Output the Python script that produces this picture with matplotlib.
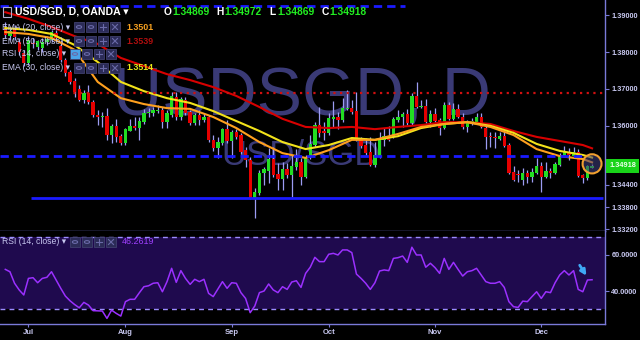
import matplotlib
matplotlib.use('Agg')
import matplotlib.pyplot as plt
import matplotlib.transforms as mtransforms
from matplotlib.patches import Rectangle, Ellipse, Circle
from matplotlib.lines import Line2D

plt.rcParams['font.family'] = ['Liberation Sans', 'DejaVu Sans']

# daily USD/SGD candles (OANDA), late June -> mid December
opens = [1.3865, 1.3843, 1.3862, 1.3827, 1.3797, 1.3770, 1.3824, 1.3814, 1.3811, 1.3827,
         1.3833, 1.3852, 1.3816, 1.3778, 1.3746, 1.3721, 1.3700, 1.3670, 1.3689, 1.3665,
         1.3629, 1.3624, 1.3627, 1.3575, 1.3600, 1.3572, 1.3553, 1.3586, 1.3600, 1.3594,
         1.3610, 1.3634, 1.3635, 1.3640, 1.3643, 1.3610, 1.3629, 1.3678, 1.3624, 1.3670,
         1.3638, 1.3608, 1.3629, 1.3616, 1.3624, 1.3562, 1.3540, 1.3553, 1.3591, 1.3559,
         1.3583, 1.3575, 1.3534, 1.3507, 1.3402, 1.3418, 1.3472, 1.3478, 1.3510, 1.3469,
         1.3456, 1.3483, 1.3467, 1.3488, 1.3502, 1.3461, 1.3515, 1.3548, 1.3602, 1.3586,
         1.3581, 1.3619, 1.3624, 1.3616, 1.3646, 1.3648, 1.3640, 1.3564, 1.3548, 1.3529,
         1.3494, 1.3515, 1.3562, 1.3572, 1.3570, 1.3616, 1.3624, 1.3632, 1.3608, 1.3681,
         1.3651, 1.3654, 1.3610, 1.3632, 1.3616, 1.3594, 1.3656, 1.3619, 1.3646, 1.3624,
         1.3597, 1.3610, 1.3610, 1.3624, 1.3594, 1.3570, 1.3570, 1.3564, 1.3572, 1.3548,
         1.3475, 1.3467, 1.3453, 1.3472, 1.3461, 1.3472, 1.3491, 1.3461, 1.3478, 1.3472,
         1.3494, 1.3518, 1.3529, 1.3518, 1.3529, 1.3467, 1.3459, 1.34869]
highs = [1.3881, 1.3865, 1.3873, 1.3838, 1.3806, 1.3843, 1.3838, 1.3833, 1.3838, 1.3843,
         1.3860, 1.3860, 1.3833, 1.3784, 1.3751, 1.3730, 1.3711, 1.3697, 1.3711, 1.3670,
         1.3643, 1.3638, 1.3648, 1.3605, 1.3619, 1.3578, 1.3594, 1.3619, 1.3624, 1.3624,
         1.3646, 1.3648, 1.3651, 1.3656, 1.3651, 1.3643, 1.3692, 1.3692, 1.3678, 1.3678,
         1.3643, 1.3635, 1.3643, 1.3632, 1.3629, 1.3575, 1.3570, 1.3594, 1.3616, 1.3589,
         1.3591, 1.3581, 1.3543, 1.3515, 1.3432, 1.3480, 1.3488, 1.3540, 1.3543, 1.3499,
         1.3502, 1.3499, 1.3521, 1.3537, 1.3513, 1.3521, 1.3575, 1.3610, 1.3651, 1.3610,
         1.3635, 1.3667, 1.3638, 1.3675, 1.3697, 1.3670, 1.3692, 1.3570, 1.3567, 1.3570,
         1.3556, 1.3583, 1.3594, 1.3600, 1.3624, 1.3643, 1.3638, 1.3646, 1.3689, 1.3719,
         1.3670, 1.3673, 1.3643, 1.3648, 1.3621, 1.3665, 1.3665, 1.3662, 1.3659, 1.3635,
         1.3616, 1.3621, 1.3635, 1.3635, 1.3600, 1.3583, 1.3583, 1.3583, 1.3586, 1.3553,
         1.3491, 1.3480, 1.3486, 1.3480, 1.3486, 1.3513, 1.3502, 1.3502, 1.3486, 1.3502,
         1.3526, 1.3545, 1.3540, 1.3543, 1.3537, 1.3469, 1.3494, 1.34972]
lows = [1.3838, 1.3833, 1.3833, 1.3792, 1.3762, 1.3765, 1.3811, 1.3806, 1.3800, 1.3819,
        1.3827, 1.3833, 1.3773, 1.3735, 1.3713, 1.3678, 1.3667, 1.3662, 1.3659, 1.3624,
        1.3602, 1.3597, 1.3562, 1.3553, 1.3556, 1.3548, 1.3548, 1.3586, 1.3589, 1.3562,
        1.3605, 1.3624, 1.3627, 1.3635, 1.3594, 1.3594, 1.3624, 1.3616, 1.3616, 1.3629,
        1.3602, 1.3602, 1.3602, 1.3610, 1.3556, 1.3532, 1.3513, 1.3548, 1.3553, 1.3513,
        1.3564, 1.3524, 1.3488, 1.3402, 1.3350, 1.3413, 1.3440, 1.3445, 1.3461, 1.3426,
        1.3426, 1.3459, 1.3407, 1.3480, 1.3440, 1.3459, 1.3510, 1.3543, 1.3570, 1.3562,
        1.3575, 1.3597, 1.3591, 1.3610, 1.3643, 1.3632, 1.3559, 1.3540, 1.3521, 1.3491,
        1.3488, 1.3513, 1.3545, 1.3559, 1.3567, 1.3610, 1.3597, 1.3602, 1.3602, 1.3648,
        1.3648, 1.3608, 1.3597, 1.3610, 1.3575, 1.3591, 1.3616, 1.3616, 1.3621, 1.3591,
        1.3583, 1.3602, 1.3605, 1.3594, 1.3537, 1.3543, 1.3540, 1.3562, 1.3543, 1.3469,
        1.3451, 1.3448, 1.3440, 1.3445, 1.3448, 1.3469, 1.3421, 1.3459, 1.3459, 1.3469,
        1.3491, 1.3515, 1.3507, 1.3515, 1.3461, 1.3445, 1.3453, 1.34869]
closes = [1.3846, 1.3857, 1.3841, 1.3800, 1.3770, 1.3833, 1.3822, 1.3830, 1.3827, 1.3835,
          1.3854, 1.3838, 1.3778, 1.3743, 1.3719, 1.3692, 1.3670, 1.3689, 1.3665, 1.3629,
          1.3625, 1.3627, 1.3575, 1.3600, 1.3570, 1.3553, 1.3591, 1.3600, 1.3594, 1.3613,
          1.3635, 1.3638, 1.3643, 1.3644, 1.3610, 1.3635, 1.3681, 1.3624, 1.3673, 1.3635,
          1.3608, 1.3629, 1.3616, 1.3624, 1.3562, 1.3540, 1.3556, 1.3591, 1.3559, 1.3583,
          1.3570, 1.3529, 1.3507, 1.3404, 1.3421, 1.3472, 1.3483, 1.3510, 1.3467, 1.3456,
          1.3483, 1.3467, 1.3491, 1.3502, 1.3461, 1.3515, 1.3551, 1.3602, 1.3581, 1.3581,
          1.3621, 1.3624, 1.3616, 1.3648, 1.3648, 1.3638, 1.3564, 1.3545, 1.3526, 1.3494,
          1.3521, 1.3564, 1.3572, 1.3562, 1.3619, 1.3624, 1.3632, 1.3608, 1.3681, 1.3651,
          1.3654, 1.3610, 1.3632, 1.3613, 1.3594, 1.3656, 1.3619, 1.3646, 1.3624, 1.3597,
          1.3610, 1.3611, 1.3624, 1.3597, 1.3570, 1.3569, 1.3567, 1.3572, 1.3545, 1.3472,
          1.3453, 1.3466, 1.3472, 1.3461, 1.3475, 1.3491, 1.3461, 1.3478, 1.3472, 1.3497,
          1.3521, 1.3529, 1.3521, 1.3529, 1.3464, 1.3459, 1.3491, 1.34918]

# moving averages every 5 bars
ema_idx = [0, 5, 10, 15, 20, 25, 30, 35, 40, 45, 50, 55, 60, 65, 70, 75, 80, 85, 90,
           95, 100, 105, 110, 115, 120, 125, 127]
ema20 = [1.3854, 1.3849, 1.3838, 1.3806, 1.3719, 1.3675, 1.3659, 1.3648, 1.3646, 1.3624,
         1.3594, 1.3556, 1.3526, 1.3513, 1.3534, 1.3562, 1.3562, 1.3578, 1.3597, 1.3605,
         1.3610, 1.3597, 1.3575, 1.3537, 1.3518, 1.3510, 1.3501]
ema30 = [1.3865, 1.3860, 1.3849, 1.3819, 1.3773, 1.3719, 1.3694, 1.3675, 1.3662, 1.3640,
         1.3613, 1.3586, 1.3556, 1.3537, 1.3548, 1.3567, 1.3562, 1.3572, 1.3594, 1.3605,
         1.3610, 1.3600, 1.3581, 1.3551, 1.3532, 1.3521, 1.3514]
ema50 = [1.3908, 1.3890, 1.3868, 1.3843, 1.3822, 1.3784, 1.3762, 1.3740, 1.3724, 1.3705,
         1.3681, 1.3651, 1.3619, 1.3597, 1.3594, 1.3597, 1.3591, 1.3597, 1.3602, 1.3610,
         1.3610, 1.3605, 1.3586, 1.3570, 1.3559, 1.3548, 1.3539]

rsi = [52.0, 50.7, 44.3, 40.6, 37.8, 47.0, 47.4, 44.6, 47.0, 47.6,
       50.7, 46.1, 41.5, 37.2, 34.6, 32.5, 30.7, 33.7, 32.2, 29.1,
       29.0, 28.9, 24.8, 29.4, 27.6, 26.1, 34.1, 35.4, 35.4, 39.0,
       42.4, 42.9, 44.3, 44.6, 39.6, 45.2, 52.6, 44.8, 51.3, 47.0,
       43.7, 46.5, 45.2, 46.5, 38.7, 36.9, 41.0, 45.2, 41.5, 44.6,
       44.3, 39.1, 35.9, 28.0, 31.7, 39.1, 40.0, 43.9, 40.6, 39.1,
       42.4, 40.9, 45.0, 45.7, 42.0, 49.8, 53.2, 58.7, 56.3, 56.3,
       60.4, 60.9, 60.0, 62.8, 62.8, 61.3, 49.4, 47.0, 44.3, 40.9,
       44.6, 51.1, 51.7, 51.3, 58.1, 58.5, 59.4, 55.9, 64.3, 60.0,
       60.0, 53.2, 55.4, 53.0, 49.8, 58.1, 52.0, 55.9, 52.0, 48.3,
       50.7, 51.3, 52.6, 48.9, 45.2, 44.3, 44.3, 45.2, 42.0, 34.1,
       31.3, 30.9, 34.4, 34.1, 36.9, 39.6, 35.9, 39.6, 39.1, 44.6,
       48.9, 51.3, 48.9, 51.3, 40.9, 39.6, 46.1, 46.2619]

month_labels = ['Jul', 'Aug', 'Sep', 'Oct', 'Nov', 'Dec']
month_idx = [5, 26, 49, 70, 93, 116]

price_ticks = [1.332, 1.338, 1.344, 1.36, 1.37, 1.38, 1.39]
level_red = 1.3689
level_blue_dash = 1.3519
level_blue_top = 1.3925
level_blue_solid = 1.3404

BG = '#000000'
AXC = '#7a7ad8'
TXT = '#c8c8f0'
UP = '#22dd22'
DN = '#e60000'
WICK = '#9c9cf2'

fig = plt.figure(figsize=(6.4, 3.4), dpi=100, facecolor=BG)
ax = fig.add_axes([0, 109 / 340, 605 / 640, 231 / 340], facecolor=BG)
ax2 = fig.add_axes([0, 16 / 340, 605 / 640, 93 / 340], facecolor=BG)
xmin, xmax = -1.15, 129.8

# watermark
ax.text(0.499, 0.502, 'USDSGD, D', transform=ax.transAxes, ha='center', va='baseline',
        fontsize=49, color='#3a3a76', zorder=0.5)
ax.text(0.497, 0.286, 'USD/SGD', transform=ax.transAxes, ha='center', va='baseline',
        fontsize=25, color='#3a3a76', zorder=0.5)

# candles
n = len(closes)
for i in range(n):
    o, h, l, c = opens[i], highs[i], lows[i], closes[i]
    col = UP if c >= o else DN
    ax.vlines(i, l, h, color=WICK, lw=0.9, zorder=2)
    body = max(abs(c - o), 0.00025)
    ax.bar(i, body, bottom=min(o, c), width=0.72, color=col, lw=0, zorder=3)

ax.plot(ema_idx, ema50, color='#d80000', lw=1.5, zorder=4)
ax.plot(ema_idx, ema30, color='#f2e21a', lw=1.5, zorder=4)
ax.plot(ema_idx, ema20, color='#ffa01e', lw=1.5, zorder=4)

# drawn levels
ax.axhline(level_red, color='#d01010', lw=1.6, ls=(0, (1, 2)), zorder=5)
ax.hlines(level_blue_top, xmin, 86.5, color='#1a1aff', lw=2, ls=(0, (3, 1.8)), zorder=5)
ax.hlines(level_blue_dash, xmin, 125.5, color='#1a1aff', lw=2, ls=(0, (3, 1.8)), zorder=5)
ax.hlines(level_blue_solid, 5.6, 129.4, color='#1a1aff', lw=2, zorder=5)

ax.add_patch(Ellipse((127.0, 1.3497), 4.1, 0.0052, fc=(0.25, 0.25, 0.5, 0.55),
                     ec='#f0a030', lw=1.5, zorder=6))

ax.set_xlim(xmin, xmax)
ax.set_ylim(1.3315, 1.3941)
ax.set_xticks([])
ax.yaxis.tick_right()
ax.set_yticks(price_ticks, [f'{v:.5f}' for v in price_ticks])
ax.tick_params(axis='y', color=AXC, labelcolor=TXT, labelsize=5.3, length=3, width=0.8, pad=1.5)
for lbl in ax.get_yticklabels():
    lbl.set_fontweight('bold')
for s in ['left', 'top']:
    ax.spines[s].set_visible(False)
for s in ['right', 'bottom']:
    ax.spines[s].set_color(AXC)
    ax.spines[s].set_linewidth(1)

# last price tag
tr = mtransforms.blended_transform_factory(ax.transAxes, ax.transData)
ax.text(1.0 + 4 / 605, closes[-1], f'{closes[-1]:.5f}', transform=tr, ha='left', va='center',
        fontsize=5.3, fontweight='bold', color='#eaffea', zorder=10,
        bbox=dict(boxstyle='square,pad=0.45', fc='#19d419', ec='none'))

# RSI panel
ax2.axhspan(30, 70, color='#1f0a4e', lw=0, zorder=0)
ax2.axhline(70, color='#9c8cff', lw=1, ls=(0, (3.5, 3)), zorder=1)
ax2.axhline(30, color='#9c8cff', lw=1, ls=(0, (3.5, 3)), zorder=1)
ax2.plot(range(len(rsi)), rsi, color='#9b30ff', lw=1.1, zorder=3)
ax2.annotate('', xy=(126.1, 47.2), xytext=(124.0, 55.6),
             arrowprops=dict(arrowstyle='-|>', color='#3fa9f5', lw=2, mutation_scale=8), zorder=4)
ax2.set_xlim(xmin, xmax)
ax2.set_ylim(21.7, 73.3)
ax2.yaxis.tick_right()
ax2.set_yticks([40, 60], ['40.0000', '60.0000'])
ax2.set_xticks(month_idx, month_labels)
ax2.tick_params(axis='y', color=AXC, labelcolor=TXT, labelsize=5.3, length=3, width=0.8, pad=1.5)
ax2.tick_params(axis='x', color=AXC, labelcolor=TXT, labelsize=5.5, length=2, width=0.8, pad=1.5)
for lbl in ax2.get_yticklabels() + ax2.get_xticklabels():
    lbl.set_fontweight('bold')
for s in ['left', 'top']:
    ax2.spines[s].set_visible(False)
for s in ['right', 'bottom']:
    ax2.spines[s].set_color(AXC)
    ax2.spines[s].set_linewidth(1)


# header / legend texts (pixel positions from top-left)
def fp(x, y):
    return x / 640, 1 - y / 340


def seg(x1, y1, x2, y2, col):
    a, b = fp(x1, y1)
    c, d = fp(x2, y2)
    fig.add_artist(Line2D([a, c], [b, d], transform=fig.transFigure, color=col, lw=0.8))


def icons(xs, y, first_on=False):
    gc = '#6a6aa8'
    for k, x in enumerate(xs):
        fc = '#4aa3e8' if (first_on and k == 0) else '#2b2b57'
        fig.add_artist(Rectangle(fp(x, y + 5), 10 / 640, 10 / 340, transform=fig.transFigure,
                                 fc=fc, ec='#40406e', lw=0.6))
        cx = x + 5
        if k < 2:
            fig.add_artist(Circle(fp(cx, y), 2.6 / 640, transform=fig.transFigure,
                                  fc='none', ec=gc, lw=0.8))
        elif k == 2:
            seg(cx - 3, y, cx + 3, y, gc)
            seg(cx, y - 3, cx, y + 3, gc)
        else:
            seg(cx - 2.5, y - 2.5, cx + 2.5, y + 2.5, gc)
            seg(cx - 2.5, y + 2.5, cx + 2.5, y - 2.5, gc)


fig.add_artist(Rectangle(fp(3, 17), 8 / 640, 10 / 340, transform=fig.transFigure,
                         fc='none', ec='#b0b0d0', lw=0.8))
fig.text(*fp(15, 12), 'USD/SGD, D, OANDA \u25be', ha='left', va='center', fontsize=7.6,
         fontweight='bold', color='white')
ohlc = [('O', opens[-1]), ('H', highs[-1]), ('L', lows[-1]), ('C', closes[-1])]
for k, (lab, v) in enumerate(ohlc):
    x0 = 164 + 52.5 * k
    fig.text(*fp(x0, 12), lab, ha='left', va='center', fontsize=7.4, fontweight='bold', color='white')
    fig.text(*fp(x0 + 8, 12), f'{v:.5f}', ha='left', va='center', fontsize=7.4,
             fontweight='bold', color='#22ee22')

rows = [('EMA (20, close) \u25be', 27, ema20[-1], '#f5a020'),
        ('EMA (50, close) \u25be', 41, ema50[-1], '#b00e0e'),
        ('RSI (14, close) \u25be', 54, None, None),
        ('EMA (30, close) \u25be', 68, ema30[-1], '#e8e81a')]
for lab, y, val, col in rows:
    fig.text(*fp(2, y), lab, ha='left', va='center', fontsize=6.2, color=TXT)
    if val is None:
        icons([70, 82, 94, 106], y, first_on=True)
    else:
        icons([74, 86, 98, 110], y)
        fig.text(*fp(126, y), f'{val:.4f}', ha='left', va='center', fontsize=6.4,
                 fontweight='bold', color=col)

fig.text(*fp(2, 242), 'RSI (14, close) \u25be', ha='left', va='center', fontsize=6.2, color=TXT)
icons([70, 82, 94, 106], 242)
fig.text(*fp(122, 242), f'{rsi[-1]:.4f}', ha='left', va='center', fontsize=6.4, color='#a040ff')

fig.savefig('out.png', dpi=100, facecolor=BG)
